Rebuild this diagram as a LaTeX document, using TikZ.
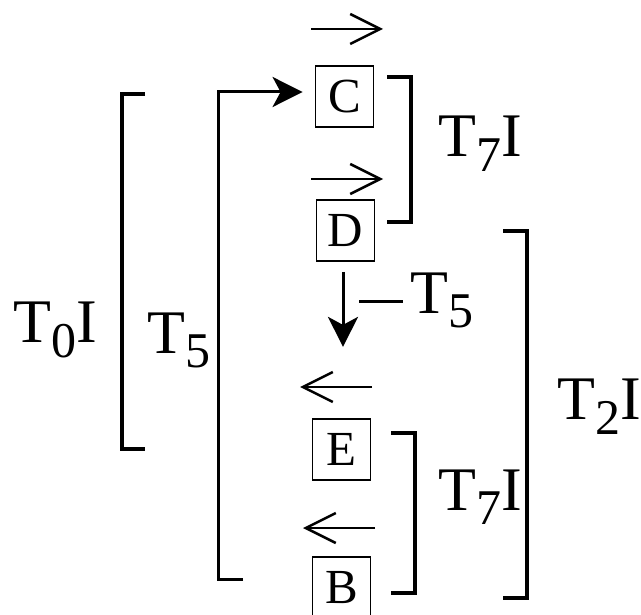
\documentclass[tikz,border=0pt]{standalone}
\usepackage{fontspec}
\setmainfont{Liberation Serif}
\usetikzlibrary{arrows.meta,calc}

\newcommand{\labfont}{\fontsize{62}{70}\selectfont}
\newcommand{\pcfont}{\fontsize{49}{50}\selectfont}
\newcommand{\Tsub}[1]{T\raisebox{-0.24em}{\fontsize{50}{50}\selectfont #1}}

\begin{document}
\begin{tikzpicture}[x=1pt,y=-1pt,
  lbl/.style={inner sep=0pt,anchor=base west,font=\labfont},
  pcbox/.style={draw,line width=1.8pt,minimum width=58pt,minimum height=61pt,inner sep=0pt,font=\pcfont},
  brk/.style={line width=3.5pt},
  vecarr/.style={line width=2.5pt,-{Straight Barb[length=30pt,width=30pt]}},
  bigarr/.style={line width=3pt,-{Stealth[length=30pt,width=30pt,inset=8pt]}}]
\useasboundingbox (0,0) rectangle (641,615);

% the four boxes
\node[pcbox] (C) at (344.5,96.5) {C};
\node[pcbox] (D) at (345.5,230.5) {D};
\node[pcbox] (E) at (341.5,449.5) {E};
\node[pcbox] (B) at (341.5,587.5) {B};

% little arrows over the letters
\newcommand{\Rarr}{(311,29),(311,179)}
\newcommand{\Larr}{(372,387),(375,528)}
\foreach \coord in \Rarr{\draw[vecarr] \coord -- ++(72,0);}
\foreach \coord in \Larr{\draw[vecarr] \coord -- ++(-72,0);}

% brackets
\draw[brk] (387,77) -- (411,77) -- (411,222) -- (387,222);
\draw[brk] (391,433) -- (415,433) -- (415,593) -- (391,593);
\draw[brk] (503,231) -- (527,231) -- (527,598) -- (503,598);
\draw[brk] (145,94) -- (122,94) -- (122,449) -- (145,449);

% T5 loop back up to C
\coordinate (loopend) at (243,579);
\coordinate (looptip) at ($(C.west)+(-12,-4.5)$);
\draw[bigarr] (loopend) -- (218,579) -- (218,92) -- (looptip);

% T5 step from D down
\coordinate (downtip) at ($(D.south)+(-2.5,85)$);
\draw[bigarr,shorten <=10pt] ($(D.south)+(-2.5,0)$) -- (downtip);
\coordinate (dashL) at (359,302);
\draw[line width=3pt] (dashL) -- ++(44,0);

% labels
\node[lbl] (T0I) at (13,343) {\Tsub{0}I};
\node[lbl] (T5a) at (147,353) {\Tsub{5}};
\node[lbl] (T7Ia) at (438,157) {\Tsub{7}I};
\node[lbl] (T7Ib) at (438,510) {\Tsub{7}I};
\node[lbl] (T5b) at (410,313) {\Tsub{5}};
\node[lbl] (T2I) at (557,420) {\Tsub{2}I};
\end{tikzpicture}
\end{document}
